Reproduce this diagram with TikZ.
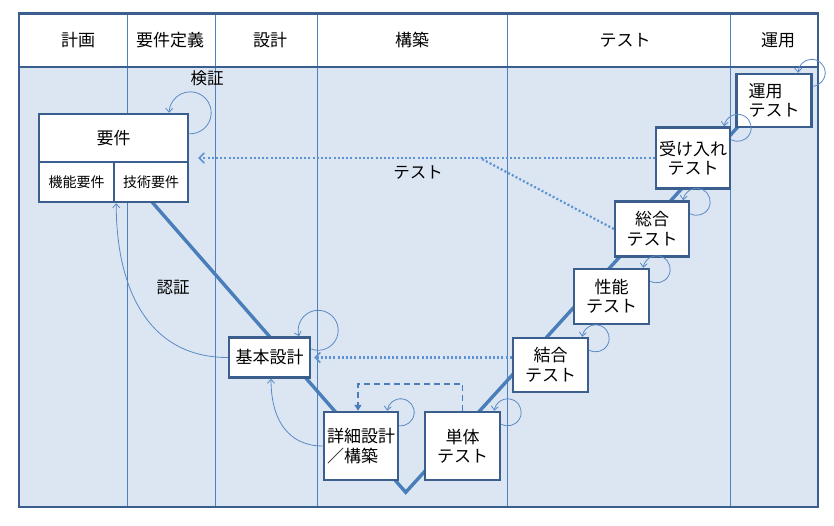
\documentclass[tikz,border=0pt]{standalone}
\usepackage{fontspec}
\setmainfont{Noto Sans CJK JP}
\usetikzlibrary{arrows.meta}
\definecolor{framecol}{HTML}{3A5F8E}
\definecolor{colline}{HTML}{4F81BD}
\definecolor{bodyfill}{HTML}{DCE6F2}
\definecolor{vcol}{HTML}{4A7EBB}
\definecolor{dotcol}{HTML}{5B93D3}
\definecolor{loopcol}{HTML}{5A8AC6}
\newcommand\myloop[6]{%
  \draw[loopline] (#1.north east) ++(#2,#3) ++(#5:#4) arc[start angle=#5, end angle=#6, radius=#4];}
\begin{document}
\begin{tikzpicture}[x=1pt,y=-1pt,
  box/.style={draw=framecol, line width=2.4pt, fill=white, inner sep=1pt, align=center,
    font=\fontsize{17}{19.5}\selectfont},
  hdr/.style={font=\fontsize{17}{20}\selectfont, inner sep=0pt},
  small/.style={font=\fontsize{14}{16}\selectfont},
  lbl/.style={font=\fontsize{16.5}{19}\selectfont, inner sep=0pt},
  loopline/.style={draw=loopcol, line width=0.8pt, -{Straight Barb[length=4pt,width=7pt]}},
  curveline/.style={draw=loopcol, line width=0.8pt, -{Straight Barb[length=4pt,width=7pt]}},
  vline/.style={draw=vcol, line width=3.4pt},
  dotline/.style={draw=dotcol, line width=2.2pt, dash pattern=on 2pt off 2.2pt},
  dotarrow/.style={dotline, -{Straight Barb[length=5pt,width=10pt,line width=1.6pt]}},
  dashline/.style={draw=vcol, line width=1.8pt, dash pattern=on 6pt off 4pt, -{Triangle[length=6pt,width=7pt]}},
  colsep/.style={draw=colline, line width=0.8pt}
]
\useasboundingbox[fill=white] (0,0) rectangle (834,525);
% background
\fill[white] (19,13.3) rectangle (818,66.7);
\fill[bodyfill] (19,66.7) rectangle (818,507);
\foreach \cx in {127.3,215.7,317.7,507.3,730}
  \draw[colsep] (\cx,13.3) -- (\cx,507);
\draw[draw=framecol, line width=2.4pt] (19,66.7) -- (818,66.7);
\draw[draw=framecol, line width=2.4pt] (19,13.3) rectangle (818,507);
% headers
\node[hdr] (h1) at (78,40) {計画};
\node[hdr] (h2) at (170,40) {要件定義};
\node[hdr] (h3) at (270,40) {設計};
\node[hdr] (h4) at (412,40) {構築};
\node[hdr] (h5) at (625,40) {テスト};
\node[hdr] (h6) at (778,40) {運用};
% V line
\coordinate (vtop) at (152,202);
\coordinate (vbot) at (405.7,492.3);
\coordinate (vend) at (745,119);
\draw[vline, line join=miter] (vtop) -- (vbot) -- (vend);
% requirement box
\node[box, minimum width=149pt, minimum height=48pt] (reqtop) at (113.5,138) {要件};
\node[box, small, minimum width=75pt, minimum height=40pt] (reqf) at (76.5,182) {機能要件};
\node[box, small, minimum width=74pt, minimum height=40pt] (reqt) at (151,182) {技術要件};
% other boxes
\node[box, minimum width=81pt, minimum height=40pt] (bd) at (269.5,357.5) {基本設計};
\node[box, align=left, minimum width=74pt, minimum height=68pt] (dd) at (361,446) {詳細設計\\／構築};
\node[box, minimum width=75pt, minimum height=68pt] (ut) at (462.5,446) {単体\\テスト};
\node[box, minimum width=75pt, minimum height=54pt] (it) at (550.5,365) {結合\\テスト};
\node[box, minimum width=75pt, minimum height=55pt] (pt) at (611.5,296.5) {性能\\テスト};
\node[box, minimum width=74pt, minimum height=55pt] (st) at (652,229) {総合\\テスト};
\node[box, minimum width=74pt, minimum height=61pt] (at) at (693,158) {受け入れ\\テスト};
\node[box, align=left, minimum width=75pt, minimum height=53pt] (ot) at (774,100.5) {運用\\テスト};
% labels
\node[lbl] (lv) at (207,78) {検証};
\node[lbl] (la) at (173,288) {認証};
\node[lbl] (lt) at (418,173) {テスト};
% self loops
\myloop{reqtop}{1}{0}{21}{92.7}{-180}
\myloop{bd}{7}{-6}{20}{110.5}{-197.5}
\myloop{dd}{1.5}{1.5}{13.5}{96.4}{-173.6}
\myloop{ut}{6.5}{1.5}{13.5}{118.8}{-173.6}
\myloop{it}{6.5}{1.5}{13.5}{118.8}{-173.6}
\myloop{pt}{6.5}{1.5}{13.5}{118.8}{-173.6}
\myloop{st}{6.5}{1.5}{13.5}{118.8}{-173.6}
\myloop{at}{6.5}{1.5}{13.5}{118.8}{-173.6}
\myloop{ot}{-1}{0}{13.5}{85.8}{-180}
% dotted test arrows
\draw[dotarrow] (at.west) -- ([xshift=9pt]at.west -| reqtop.east);
\coordinate (br) at (480,158);
\draw[dotline] (st.west) -- (br);
\draw[dotarrow] (it.west |- bd.east) -- ([xshift=3pt]bd.east);
% dashed feedback
\draw[dashline] (ut.north) -- ++(0,-27) -| ([xshift=-3pt]dd.north);
% curves
\draw[curveline] (bd.west) .. controls +(-80,0) and +(0,85) .. ([xshift=1pt]reqf.south east);
\draw[curveline] (dd.west) .. controls +(-34,0) and +(0,42) .. ([xshift=1.5pt]bd.south);
\end{tikzpicture}
\end{document}
